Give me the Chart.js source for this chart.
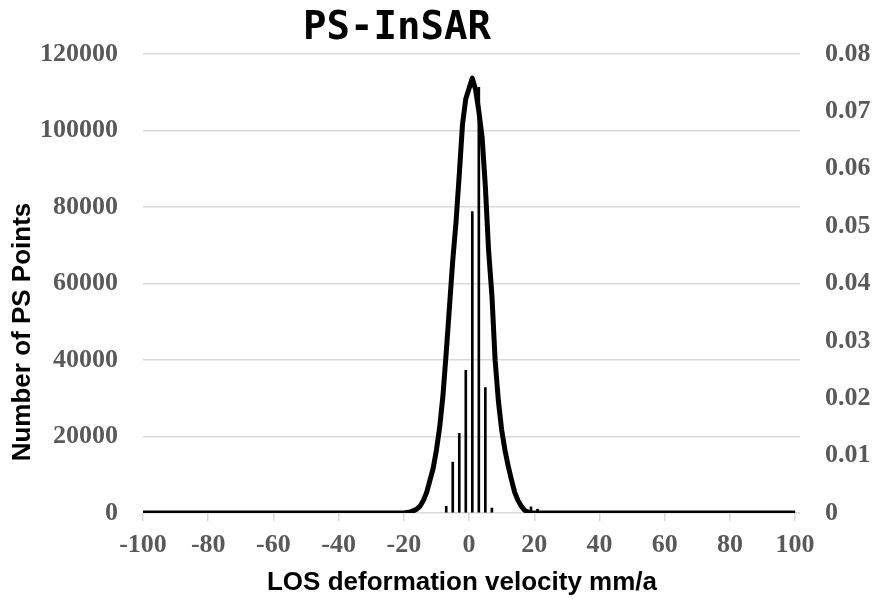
<!DOCTYPE html>
<html>
<head>
<meta charset="utf-8">
<script src="https://cdn.jsdelivr.net/npm/chart.js@4.4.1/dist/chart.umd.min.js"></script>
<style>
  body { margin: 0; background: #fff; }
  #wrap { width: 875px; height: 599px; position: relative; }
</style>
</head>
<body>
<div id="wrap"><canvas id="ps-chart"></canvas></div>
<script>
// histogram bars: LOS velocity bin (mm/a) and number of PS points
const velocityBins = [-7, -5, -3, -1, 1, 3, 5, 7, 19, 21];
const pointCounts = [1750, 13300, 20800, 37300, 78800, 111300, 32800, 1300, 1600, 1000];

// fitted distribution curve (right axis)
const curveVelocity = [-100, -20, -19, -18, -17, -16, -15, -14, -13, -12, -11, -10, -9, -8, -7, -6, -5, -4, -3, -2, -1,
  0, 1, 2, 3, 4, 5, 6, 7, 8, 9, 10, 11, 12, 13, 14, 15, 16, 17, 18, 19, 20, 100];
const curveDensity = [0, 0, 0.0001, 0.0002, 0.0004, 0.0007, 0.0012, 0.0022, 0.0036, 0.0057, 0.0078, 0.0110, 0.0150, 0.0205, 0.0280, 0.0360, 0.0440, 0.0507, 0.0590, 0.0678, 0.0722,
  0.0740, 0.0758, 0.0738, 0.0700, 0.0655, 0.0569, 0.0457, 0.0380, 0.0266, 0.0195, 0.0145, 0.0110, 0.0082, 0.0058, 0.0036, 0.0022, 0.0012, 0.0005, 0.0002, 0, 0, 0];

const xTicks = [-100, -80, -60, -40, -20, 0, 20, 40, 60, 80, 100];
const countTicks = [0, 20000, 40000, 60000, 80000, 100000, 120000];
const densityTicks = [0, 0.01, 0.02, 0.03, 0.04, 0.05, 0.06, 0.07, 0.08];

const tickFont = { family: "'Liberation Serif', 'Times New Roman', serif", size: 26, weight: "bold" };
const tickColor = "#595959";
const labelFont = "bold 26px 'Liberation Sans', Arial, sans-serif";

// title and axis titles drawn by hand so they sit where the original has them
const extraText = {
  id: "extraText",
  afterDraw(chart) {
    const c = chart.ctx;
    c.save();
    c.fillStyle = "#000";
    c.textAlign = "center";
    c.textBaseline = "middle";
    c.font = "bold 39px 'DejaVu Sans Mono'";
    c.fillText("PS-InSAR", 397, 29);
    c.font = labelFont;
    c.fillText("LOS deformation velocity mm/a", 462, 583);
    c.translate(23, 332);
    c.rotate(-Math.PI / 2);
    c.fillText("Number of PS Points", 0, 0);
    c.restore();
  }
};

const barData = velocityBins.map((v, i) => ({ x: v, y: pointCounts[i] }));
const curveData = curveVelocity.map((v, i) => ({ x: v, y: curveDensity[i] }));

new Chart(document.getElementById("ps-chart"), {
  type: "bar",
  data: {
    datasets: [
      {
        type: "line",
        label: "Distribution",
        data: curveData,
        yAxisID: "y1",
        borderColor: "#000",
        borderWidth: 5,
        pointRadius: 0,
        tension: 0,
        fill: false,
        borderJoinStyle: "round",
        order: 0,
      },
      {
        label: "Number of PS Points",
        data: barData,
        yAxisID: "y",
        backgroundColor: "#000",
        barThickness: 2,
        order: 1,
      },
    ],
  },
  options: {
    responsive: true,
    maintainAspectRatio: false,
    animation: false,
    layout: { padding: { top: 54, left: 0, right: 0, bottom: 0 } },
    plugins: {
      legend: { display: false },
      tooltip: { enabled: false },
      title: { display: false },
    },
    scales: {
      x: {
        type: "linear",
        min: -100,
        max: 101.5,
        offset: false,
        afterBuildTicks: (s) => { s.ticks = xTicks.map((v) => ({ value: v })); },
        afterFit: (s) => { s.height = 86; },
        grid: { drawOnChartArea: false, drawTicks: true, tickLength: 8, color: "#d9d9d9", lineWidth: 1.5, offset: false },
        border: { display: false },
        ticks: { font: tickFont, color: tickColor, padding: 9, maxRotation: 0 },
      },
      y: {
        position: "left",
        min: 0,
        max: 120000,
        afterBuildTicks: (s) => { s.ticks = countTicks.map((v) => ({ value: v })); },
        afterFit: (s) => { s.width = 143; },
        grid: { color: "#d9d9d9", lineWidth: 1.5, drawTicks: false },
        border: { display: false },
        ticks: { font: tickFont, color: tickColor, padding: 25, callback: (v) => String(v) },
      },
      y1: {
        position: "right",
        min: 0,
        max: 0.08,
        afterBuildTicks: (s) => { s.ticks = densityTicks.map((v) => ({ value: v })); },
        afterFit: (s) => { s.width = 75; },
        grid: { display: false, drawTicks: false },
        border: { display: false },
        ticks: { font: tickFont, color: tickColor, padding: 25, callback: (v) => (v === 0 ? "0" : v.toFixed(2)) },
      },
    },
  },
  plugins: [extraText],
});
</script>
</body>
</html>
